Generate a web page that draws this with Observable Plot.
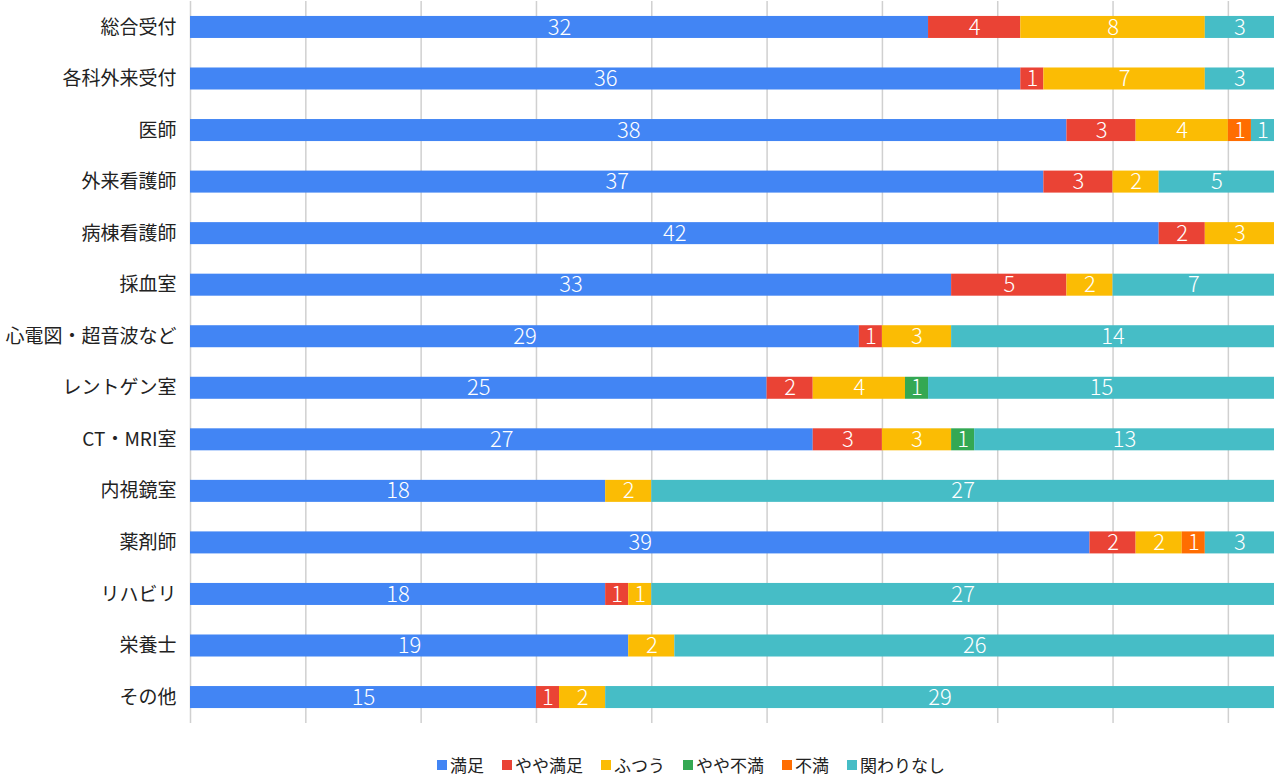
<!DOCTYPE html>
<html>
<head>
<meta charset="utf-8">
<script src="https://cdn.jsdelivr.net/npm/d3@7"></script>
<script src="https://cdn.jsdelivr.net/npm/@observablehq/plot@0.6"></script>
<style>
  body { margin: 0; background: #fff; font-family: "Noto Sans CJK JP", "Noto Sans", sans-serif; }
  #legend { display: flex; gap: 18px; padding-left: 437px; margin-top: 22px; font-size: 17px; color: #222; }
  #legend span.item { display: flex; align-items: center; }
  #legend span.sw { width: 10px; height: 10px; display: inline-block; margin-right: 3px; }
</style>
</head>
<body>
<div id="chart"></div>
<div id="legend"></div>
<script>
const categories = ["総合受付", "各科外来受付", "医師", "外来看護師", "病棟看護師", "採血室", "心電図・超音波など", "レントゲン室", "CT・MRI室", "内視鏡室", "薬剤師", "リハビリ", "栄養士", "その他"];
const seriesNames = ["満足", "やや満足", "ふつう", "やや不満", "不満", "関わりなし"];
const colors = ["#4285F4", "#EA4335", "#FBBC04", "#34A853", "#FF6D01", "#46BDC6"];
const manzoku    = [32, 36, 38, 37, 42, 33, 29, 25, 27, 18, 39, 18, 19, 15];
const yayaManzoku= [4, 1, 3, 3, 2, 5, 1, 2, 3, 0, 2, 1, 0, 1];
const futsuu     = [8, 7, 4, 2, 3, 2, 3, 4, 3, 2, 2, 1, 2, 2];
const yayaFuman  = [0, 0, 0, 0, 0, 0, 0, 1, 1, 0, 0, 0, 0, 0];
const fuman      = [0, 0, 1, 0, 0, 0, 0, 0, 0, 0, 1, 0, 0, 0];
const kakawari   = [3, 3, 1, 5, 0, 7, 14, 15, 13, 27, 3, 27, 26, 29];
const seriesValues = [manzoku, yayaManzoku, futsuu, yayaFuman, fuman, kakawari];
const xTicks = [0, 5, 10, 15, 20, 25, 30, 35, 40, 45];

const data = [];
seriesNames.forEach((s, si) => {
  categories.forEach((c, ci) => {
    const v = seriesValues[si][ci];
    if (v > 0) data.push({cat: c, series: s, value: v});
  });
});

const chart = Plot.plot({
  width: 1277,
  height: 730,
  marginLeft: 190,
  marginRight: 3,
  marginTop: 1,
  marginBottom: 7,
  style: {fontFamily: "'Noto Sans CJK JP', sans-serif", background: "#fff"},
  x: {domain: [0, 47], axis: null},
  y: {domain: categories, paddingInner: 0.573, paddingOuter: 0.29, round: false, label: null, tickSize: 0, tickPadding: 14},
  color: {domain: seriesNames, range: colors},
  marks: [
    Plot.ruleX(xTicks, {stroke: "#d0d0d0", strokeWidth: 1.5, y1: null, y2: null}),
    Plot.barX(data, Plot.stackX({x: "value", y: "cat", z: "series", fill: "series", order: seriesNames})),
    Plot.text(data, Plot.stackX({x: "value", y: "cat", z: "series", text: d => String(d.value), order: seriesNames, fill: "white", fontSize: 22, fontWeight: 300})),
    Plot.axisY({tickSize: 0, tickPadding: 14, fontSize: 19, fill: "#222", label: null})
  ]
});
document.getElementById("chart").appendChild(chart);

const leg = document.getElementById("legend");
seriesNames.forEach((s, i) => {
  const it = document.createElement("span");
  it.className = "item";
  const sw = document.createElement("span");
  sw.className = "sw";
  sw.style.background = colors[i];
  it.appendChild(sw);
  it.appendChild(document.createTextNode(s));
  leg.appendChild(it);
});
</script>
</body>
</html>
